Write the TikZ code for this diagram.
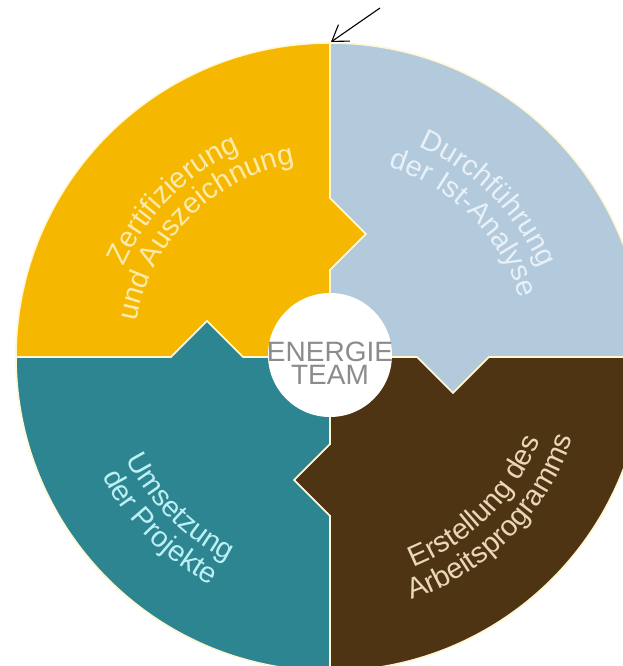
\documentclass[tikz,border=0pt]{standalone}
\usepackage{fontspec}
\setmainfont{Liberation Sans}
\usetikzlibrary{arrows.meta,decorations.text}

\definecolor{zertgelb}{HTML}{F5B700}
\definecolor{analyseblau}{HTML}{B3CADD}
\definecolor{programmbraun}{HTML}{4F3413}
\definecolor{projekttuerkis}{HTML}{2D8592}
\definecolor{sepline}{HTML}{FFF6D2}
\definecolor{gelbtext}{HTML}{FDEBAE}
\definecolor{blautext}{HTML}{E8F0F8}
\definecolor{brauntext}{HTML}{E9D7B8}
\definecolor{tuerkistext}{HTML}{BDF0F4}
\definecolor{teamgrau}{HTML}{8C8C8C}

\tikzset{
  sector/.style={draw=sepline, line width=1.6pt},
  ringtext/.style 2 args={decorate, decoration={text along path, text align=center,
      text={|\fontsize{29}{29}\selectfont\color{#1}|#2}}}
}

\begin{document}
\begin{tikzpicture}[x=1pt, y=1pt]
            \clip (-330,-309) rectangle (293,357);
            % vier Sektoren mit Zacken
            \filldraw[sector, fill=zertgelb] (0,0) -- (0,87) -- (36,123) -- (0,159) -- (0,314)
                arc[start angle=90, end angle=180, radius=314] -- (-159,0) -- (-123,36) -- (-87,0) -- cycle;
            \filldraw[sector, fill=analyseblau] (0,0) -- (0,87) -- (36,123) -- (0,159) -- (0,314)
                arc[start angle=90, end angle=0, radius=314] -- (159,0) -- (123,-36) -- (87,0) -- cycle;
            \filldraw[sector, fill=programmbraun] (0,0) -- (87,0) -- (123,-36) -- (159,0) -- (314,0)
                arc[start angle=0, end angle=-90, radius=314] -- (0,-159) -- (-36,-123) -- (0,-87) -- cycle;
            \filldraw[sector, fill=projekttuerkis] (0,0) -- (0,-87) -- (-36,-123) -- (0,-159) -- (0,-314)
                arc[start angle=-90, end angle=-180, radius=314] -- (-159,0) -- (-123,36) -- (-87,0) -- cycle;
            % Beschriftungen
            \path[ringtext={gelbtext}{Zertifizierung}] (190:225) arc[start angle=190, end angle=80, radius=225];
            \path[ringtext={gelbtext}{und Auszeichnung}] (190:197) arc[start angle=190, end angle=80, radius=197];
            \path[ringtext={blautext}{Durchführung}] (100:228) arc[start angle=100, end angle=-10, radius=228];
            \path[ringtext={blautext}{der Ist-Analyse}] (100:199) arc[start angle=100, end angle=-10, radius=199];
            \path[ringtext={brauntext}{Erstellung des}] (-100:226) arc[start angle=-100, end angle=10, radius=226];
            \path[ringtext={brauntext}{Arbeitsprogramms}] (-100:256) arc[start angle=-100, end angle=10, radius=256];
            \path[ringtext={tuerkistext}{Umsetzung}] (170:228) arc[start angle=170, end angle=280, radius=228];
            \path[ringtext={tuerkistext}{der Projekte}] (170:257) arc[start angle=170, end angle=280, radius=257];
            % Mitte
            \node[circle, fill=white, minimum size=124pt, inner sep=0pt] (team) at (0,2) {};
            \node[text=teamgrau, align=center, inner sep=0pt, font=\fontsize{28}{23}\selectfont] (teamlabel) at (0,-6) {ENERGIE\\TEAM};
            % Pfeil
            \coordinate (rimtop) at (1,315);
            \coordinate (arrowtail) at (50,349);
            \draw[line width=1.1pt, -{Straight Barb[length=15pt, width=20pt]}] (arrowtail) -- (rimtop);
        \end{tikzpicture}
\end{document}
